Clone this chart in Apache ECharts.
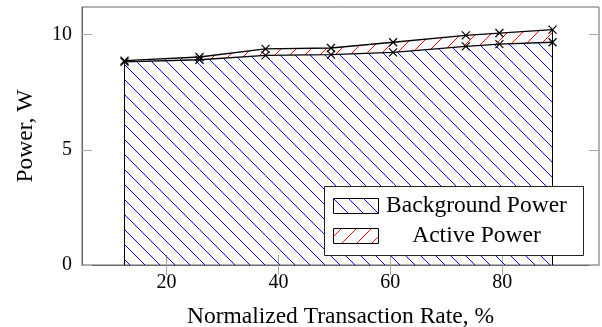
<!DOCTYPE html>
<html>
<head>
<meta charset="utf-8">
<script src="https://cdn.jsdelivr.net/npm/echarts@6/dist/echarts.min.js"></script>
<style>
html,body{margin:0;padding:0;background:#fff;}
#chart{width:602px;height:327px;}
</style>
</head>
<body>
<div id="chart"></div>
<script>
// ---- data ----
var rates = [12.5, 25.9, 37.7, 49.4, 60.5, 73.5, 79.5, 89.0];
var backgroundPower = [8.82, 8.91, 9.10, 9.13, 9.23, 9.49, 9.59, 9.67];
var activePower = [0.05, 0.12, 0.28, 0.29, 0.44, 0.48, 0.48, 0.55];
var xTicks = [20, 40, 60, 80];
var yTicks = [0, 5, 10];
var seriesNames = ['Background Power', 'Active Power'];
var xTitle = 'Normalized Transaction Rate, %';
var yTitle = 'Power, W';

var BLUE = '#0000ff', RED = '#ff0000';
var STEP = 15;

// hatch lines inside region between top[] and bottom[] (screen points, same xs)
// dir 'nw' : "\" lines (y - x = c), 'ne' : "/" lines (y + x = c)
function hatchLines(top, bottom, dir, color) {
  var s = dir === 'nw' ? 1 : -1;
  var minX = top[0][0], maxX = top[top.length - 1][0];
  var minY = Infinity, maxY = -Infinity;
  top.forEach(function (p) { minY = Math.min(minY, p[1]); });
  bottom.forEach(function (p) { maxY = Math.max(maxY, p[1]); });
  var cLo, cHi;
  if (s === 1) { cLo = minY - maxX; cHi = maxY - minX; }
  else { cLo = minY + minX; cHi = maxY + maxX; }
  var out = [];
  for (var c = Math.floor(cLo / STEP) * STEP; c <= cHi; c += STEP) {
    for (var i = 0; i < top.length - 1; i++) {
      var xa = top[i][0], xb = top[i + 1][0];
      if (xb - xa < 1e-6) continue;
      var tS = (top[i + 1][1] - top[i][1]) / (xb - xa), tB = top[i][1] - tS * xa;
      var bS = (bottom[i + 1][1] - bottom[i][1]) / (xb - xa), bB = bottom[i][1] - bS * xa;
      var lo = xa, hi = xb, ok = true;
      var cons = [[s - tS, c - tB], [bS - s, bB - c]];
      cons.forEach(function (f) {
        var a = f[0], b = f[1];
        if (Math.abs(a) < 1e-9) { if (b < 0) ok = false; }
        else if (a > 0) lo = Math.max(lo, -b / a);
        else hi = Math.min(hi, -b / a);
      });
      if (ok && hi - lo > 1e-6) {
        out.push({
          type: 'line', silent: true,
          shape: { x1: lo, y1: s * lo + c, x2: hi, y2: s * hi + c },
          style: { stroke: color, lineWidth: 1 }
        });
      }
    }
  }
  return out;
}

var n = rates.length;
var totals = backgroundPower.map(function (b, i) { return +(b + activePower[i]).toFixed(3); });
var bgData = rates.map(function (x, i) { return [x, backgroundPower[i]]; });
var totData = rates.map(function (x, i) { return [x, totals[i]]; });

var font = 'Liberation Serif';
var crossPath = 'path://M0,0L10,10M10,0L0,10';

// legend drawn as graphic (box, hatched swatches, centered texts)
function legendGraphic() {
  var g = [];
  g.push({ type: 'rect', z: 100, silent: true, shape: { x: 324.5, y: 186.5, width: 259, height: 69 },
           style: { fill: '#fff', stroke: '#222', lineWidth: 1 } });
  var rows = [
    { y: 198, color: BLUE, dir: 'nw', name: seriesNames[0] },
    { y: 228, color: RED, dir: 'ne', name: seriesNames[1] }
  ];
  rows.forEach(function (r) {
    var x0 = 333.5, x1 = 378.5, y0 = r.y + 0.5, y1 = r.y + 15.5;
    hatchLines([[x0, y0], [x1, y0]], [[x0, y1], [x1, y1]], r.dir, r.color).forEach(function (l) {
      l.z = 101; g.push(l);
    });
    g.push({ type: 'rect', z: 102, silent: true, shape: { x: x0, y: y0, width: x1 - x0, height: y1 - y0 },
             style: { fill: 'none', stroke: '#000', lineWidth: 1 } });
    g.push({ type: 'text', z: 102, silent: true, x: 476.5, y: r.y + 8,
             style: { text: r.name, font: '23.5px "Liberation Serif"', fill: '#000',
                      align: 'center', verticalAlign: 'middle', textAlign: 'center', textVerticalAlign: 'middle' } });
  });
  return g;
}

var chart = echarts.init(document.getElementById('chart'), null, { renderer: 'canvas' });
chart.setOption({
  animation: false,
  backgroundColor: '#fff',
  grid: { left: 82, right: 3, top: 7, bottom: 62, outerBoundsMode: 'none', containLabel: false,
          show: true, borderColor: '#666', borderWidth: 1, backgroundColor: 'transparent' },
  legend: { show: false },
  graphic: legendGraphic(),
  xAxis: [{
    type: 'value', min: 4.9, max: 97.3,
    name: xTitle, nameLocation: 'middle', nameGap: 40,
    nameTextStyle: { fontFamily: font, fontSize: 23.5, color: '#000' },
    axisLine: { show: true, lineStyle: { color: '#666' } },
    axisTick: { show: true, inside: true, length: 10, customValues: xTicks, lineStyle: { color: '#aaa' } },
    axisLabel: { customValues: xTicks, fontFamily: font, fontSize: 20, color: '#000', margin: 8 },
    splitLine: { show: false }
  }, {
    type: 'value', min: 4.9, max: 97.3, position: 'top',
    axisLine: { show: false },
    axisTick: { show: true, inside: true, length: 10, customValues: xTicks, lineStyle: { color: '#aaa' } },
    axisLabel: { show: false },
    splitLine: { show: false }
  }],
  yAxis: [{
    type: 'value', min: 0, max: 11.2,
    name: yTitle, nameLocation: 'middle', nameGap: 44,
    nameTextStyle: { fontFamily: font, fontSize: 23.5, color: '#000' },
    axisLine: { show: true, lineStyle: { color: '#666' } },
    axisTick: { show: true, inside: true, length: 10, customValues: yTicks, lineStyle: { color: '#aaa' } },
    axisLabel: { customValues: yTicks, fontFamily: font, fontSize: 20, color: '#000', margin: 10 },
    splitLine: { show: false }
  }, {
    type: 'value', min: 0, max: 11.2, position: 'right',
    axisLine: { show: false },
    axisTick: { show: true, inside: true, length: 10, customValues: yTicks, lineStyle: { color: '#aaa' } },
    axisLabel: { show: false },
    splitLine: { show: false }
  }],
  series: [{
    name: 'hatch',
    type: 'custom',
    coordinateSystem: 'cartesian2d',
    silent: true,
    z: 1,
    data: [[rates[0], 0]],
    renderItem: function (params, api) {
      var bgTop = rates.map(function (x, i) { return api.coord([x, backgroundPower[i]]); });
      var base = rates.map(function (x) { return api.coord([x, 0]); });
      var totTop = rates.map(function (x, i) { return api.coord([x, totals[i]]); });
      var children = hatchLines(bgTop, base, 'nw', BLUE).concat(hatchLines(totTop, bgTop, 'ne', RED));
      return { type: 'group', children: children };
    }
  }, {
    name: seriesNames[1],
    type: 'line',
    data: totData,
    symbol: crossPath, symbolSize: 8,
    itemStyle: { color: '#000', borderColor: '#000', borderWidth: 1.2 },
    lineStyle: { color: '#000', width: 1.3 },
    z: 3,
    markLine: {
      silent: true, symbol: 'none', label: { show: false },
      lineStyle: { color: '#000', width: 1, type: 'solid' },
      data: [
        [{ coord: [rates[0], 0] }, { coord: [rates[0], totals[0]] }],
        [{ coord: [rates[n - 1], 0] }, { coord: [rates[n - 1], totals[n - 1]] }]
      ]
    }
  }, {
    name: seriesNames[0],
    type: 'line',
    data: bgData,
    symbol: crossPath, symbolSize: 8,
    itemStyle: { color: '#000', borderColor: '#000', borderWidth: 1.2 },
    lineStyle: { color: '#000', width: 1.3 },
    z: 4
  }]
});
</script>
</body>
</html>
